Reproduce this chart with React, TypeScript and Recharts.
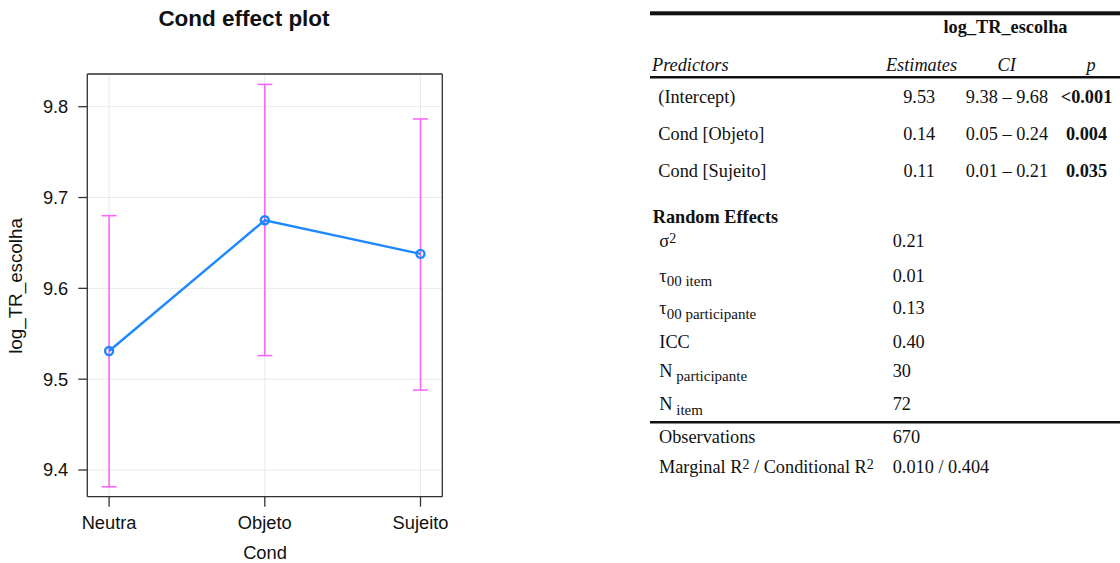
import { CartesianGrid, ErrorBar, Line, LineChart, XAxis, YAxis } from "recharts";

// Effect estimates per condition, with 95% confidence limits
const categories = ["Neutra", "Objeto", "Sujeito"];
const fitValues = [9.531, 9.675, 9.638];
const lowerValues = [9.3815, 9.526, 9.488];
const upperValues = [9.68, 9.8245, 9.7865];
const yTicks = [9.4, 9.5, 9.6, 9.7, 9.8];

// Model summary table
const predictors = ["(Intercept)", "Cond [Objeto]", "Cond [Sujeito]"];
const estimates = ["9.53", "0.14", "0.11"];
const ciLabels = ["9.38 – 9.68", "0.05 – 0.24", "0.01 – 0.21"];
const pLabels = ["<0.001", "0.004", "0.035"];

const randomSymbols = ["σ", "τ", "τ", "ICC", "N", "N"];
const randomSubs = ["", "00 item", "00 participante", "", " participante", " item"];
const randomValues = ["0.21", "0.01", "0.13", "0.40", "30", "72"];

const chartData = categories.map((cond, i) => ({
  x: i + 1,
  cond,
  fit: fitValues[i],
  ci: [fitValues[i] - lowerValues[i], upperValues[i] - fitValues[i]],
}));

const X_DOMAIN: [number, number] = [0.86, 3.14];
const Y_DOMAIN: [number, number] = [9.3706, 9.836];
const AXIS = "#333333";
const LINE_BLUE = "#1e88ff";
const CI_PINK = "#ff66ff";

const serif = "'Liberation Serif', 'Times New Roman', serif";
const sans = "'Liberation Sans', Arial, Helvetica, sans-serif";

function EffectPlot() {
  return (
    <LineChart
      width={470}
      height={563}
      data={chartData}
      margin={{ top: 64, right: 17.7, bottom: 30.3, left: 27.3 }}
      style={{ position: "absolute", left: 0, top: 0 }}
    >
      <CartesianGrid stroke="#e9e9e9" strokeWidth={1} />
      <XAxis
        dataKey="x"
        type="number"
        domain={X_DOMAIN}
        ticks={[1, 2, 3]}
        allowDataOverflow
        tickFormatter={(v: number) => categories[v - 1]}
        height={36}
        tickSize={10}
        tickMargin={9}
        stroke={AXIS}
        strokeWidth={1.3}
        tick={{ fill: "#111", fontSize: 18.3 }}
      />
      <XAxis
        xAxisId="top"
        orientation="top"
        dataKey="x"
        type="number"
        domain={X_DOMAIN}
        ticks={[1, 2, 3]}
        allowDataOverflow
        height={10}
        tickSize={9}
        tick={false}
        stroke={AXIS}
        strokeWidth={1.3}
      />
      <YAxis
        type="number"
        domain={Y_DOMAIN}
        ticks={yTicks}
        allowDataOverflow
        tickFormatter={(v: number) => v.toFixed(1)}
        width={60}
        tickSize={9}
        tickMargin={10}
        stroke={AXIS}
        strokeWidth={1.3}
        tick={{ fill: "#111", fontSize: 18.3 }}
      />
      <YAxis
        yAxisId="right"
        orientation="right"
        type="number"
        domain={Y_DOMAIN}
        ticks={yTicks}
        allowDataOverflow
        width={10}
        tickSize={10}
        tick={false}
        stroke={AXIS}
        strokeWidth={1.3}
      />
      <Line
        type="linear"
        dataKey="fit"
        stroke={LINE_BLUE}
        strokeWidth={2.4}
        dot={{ r: 4, stroke: LINE_BLUE, strokeWidth: 2.4, fill: "none" }}
        activeDot={false}
        isAnimationActive={false}
      >
        <ErrorBar
          dataKey="ci"
          direction="y"
          width={7.5}
          stroke={CI_PINK}
          strokeWidth={1.6}
          isAnimationActive={false}
        />
      </Line>
    </LineChart>
  );
}

function SummaryTable() {
  const ox = 640;
  const rowBase = 103.3;
  const rowStep = 36.7;
  const reBaselines = [247.3, 281.7, 314, 348.3, 376.7, 410];
  return (
    <g fontFamily={serif} fontSize={18.3} fill="#111">
      <rect x={ox + 10} y={11.3} width={480} height={4} fill="#111" />
      <text x={1005.5} y={33.3} textAnchor="middle" fontWeight="bold">
        log_TR_escolha
      </text>
      <text x={ox + 12} y={71} fontStyle="italic">Predictors</text>
      <text x={921.5} y={71} fontStyle="italic" textAnchor="middle">Estimates</text>
      <text x={1006.7} y={71} fontStyle="italic" textAnchor="middle">CI</text>
      <text x={1091} y={71} fontStyle="italic" textAnchor="middle">p</text>
      <rect x={ox + 10} y={76} width={480} height={2.5} fill="#111" />

      {predictors.map((name, i) => {
        const y = rowBase + i * rowStep;
        return (
          <g key={name}>
            <text x={ox + 18.3} y={y}>{name}</text>
            <text x={919.2} y={y} textAnchor="middle">{estimates[i]}</text>
            <text x={1007} y={y} textAnchor="middle">{ciLabels[i]}</text>
            <text x={1086.5} y={y} textAnchor="middle" fontWeight="bold">
              {pLabels[i]}
            </text>
          </g>
        );
      })}

      <text x={ox + 12.7} y={222.7} fontWeight="bold">Random Effects</text>
      {randomSymbols.map((sym, i) => (
        <g key={`re-${i}`}>
          <text x={ox + 19.3} y={reBaselines[i]}>
            <tspan>{sym}</tspan>
            {i === 0 ? (
              <tspan fontSize={14} dy={-4}>2</tspan>
            ) : randomSubs[i] ? (
              <tspan fontSize={15} dy={4.5}>{randomSubs[i]}</tspan>
            ) : null}
          </text>
          <text x={892.7} y={reBaselines[i]}>{randomValues[i]}</text>
        </g>
      ))}

      <rect x={ox + 10} y={421} width={480} height={2.5} fill="#111" />
      <text x={ox + 19} y={443.3}>Observations</text>
      <text x={892.7} y={443.3}>670</text>
      <text x={ox + 19} y={472.7}>
        <tspan>Marginal R</tspan>
        <tspan fontSize={14} dy={-4}>2</tspan>
        <tspan dy={4}> / Conditional R</tspan>
        <tspan fontSize={14} dy={-4}>2</tspan>
      </text>
      <text x={892.7} y={472.7}>0.010 / 0.404</text>
    </g>
  );
}

export default function App() {
  return (
    <div
      style={{
        position: "absolute",
        left: 0,
        top: 0,
        width: 1120,
        height: 563,
        background: "#ffffff",
        overflow: "hidden",
        fontFamily: sans,
      }}
    >
      <EffectPlot />
      <svg
        width={1120}
        height={563}
        style={{ position: "absolute", left: 0, top: 0, pointerEvents: "none" }}
      >
        <text
          x={244}
          y={26}
          textAnchor="middle"
          fontFamily={sans}
          fontWeight="bold"
          fontSize={22.5}
          fill="#111"
        >
          Cond effect plot
        </text>
        <text
          x={21.5}
          y={286}
          transform="rotate(-90, 21.5, 286)"
          textAnchor="middle"
          fontFamily={sans}
          fontSize={18.8}
          fill="#111"
        >
          log_TR_escolha
        </text>
        <text x={265} y={559} textAnchor="middle" fontFamily={sans} fontSize={18.3} fill="#111">
          Cond
        </text>
        <SummaryTable />
      </svg>
    </div>
  );
}
